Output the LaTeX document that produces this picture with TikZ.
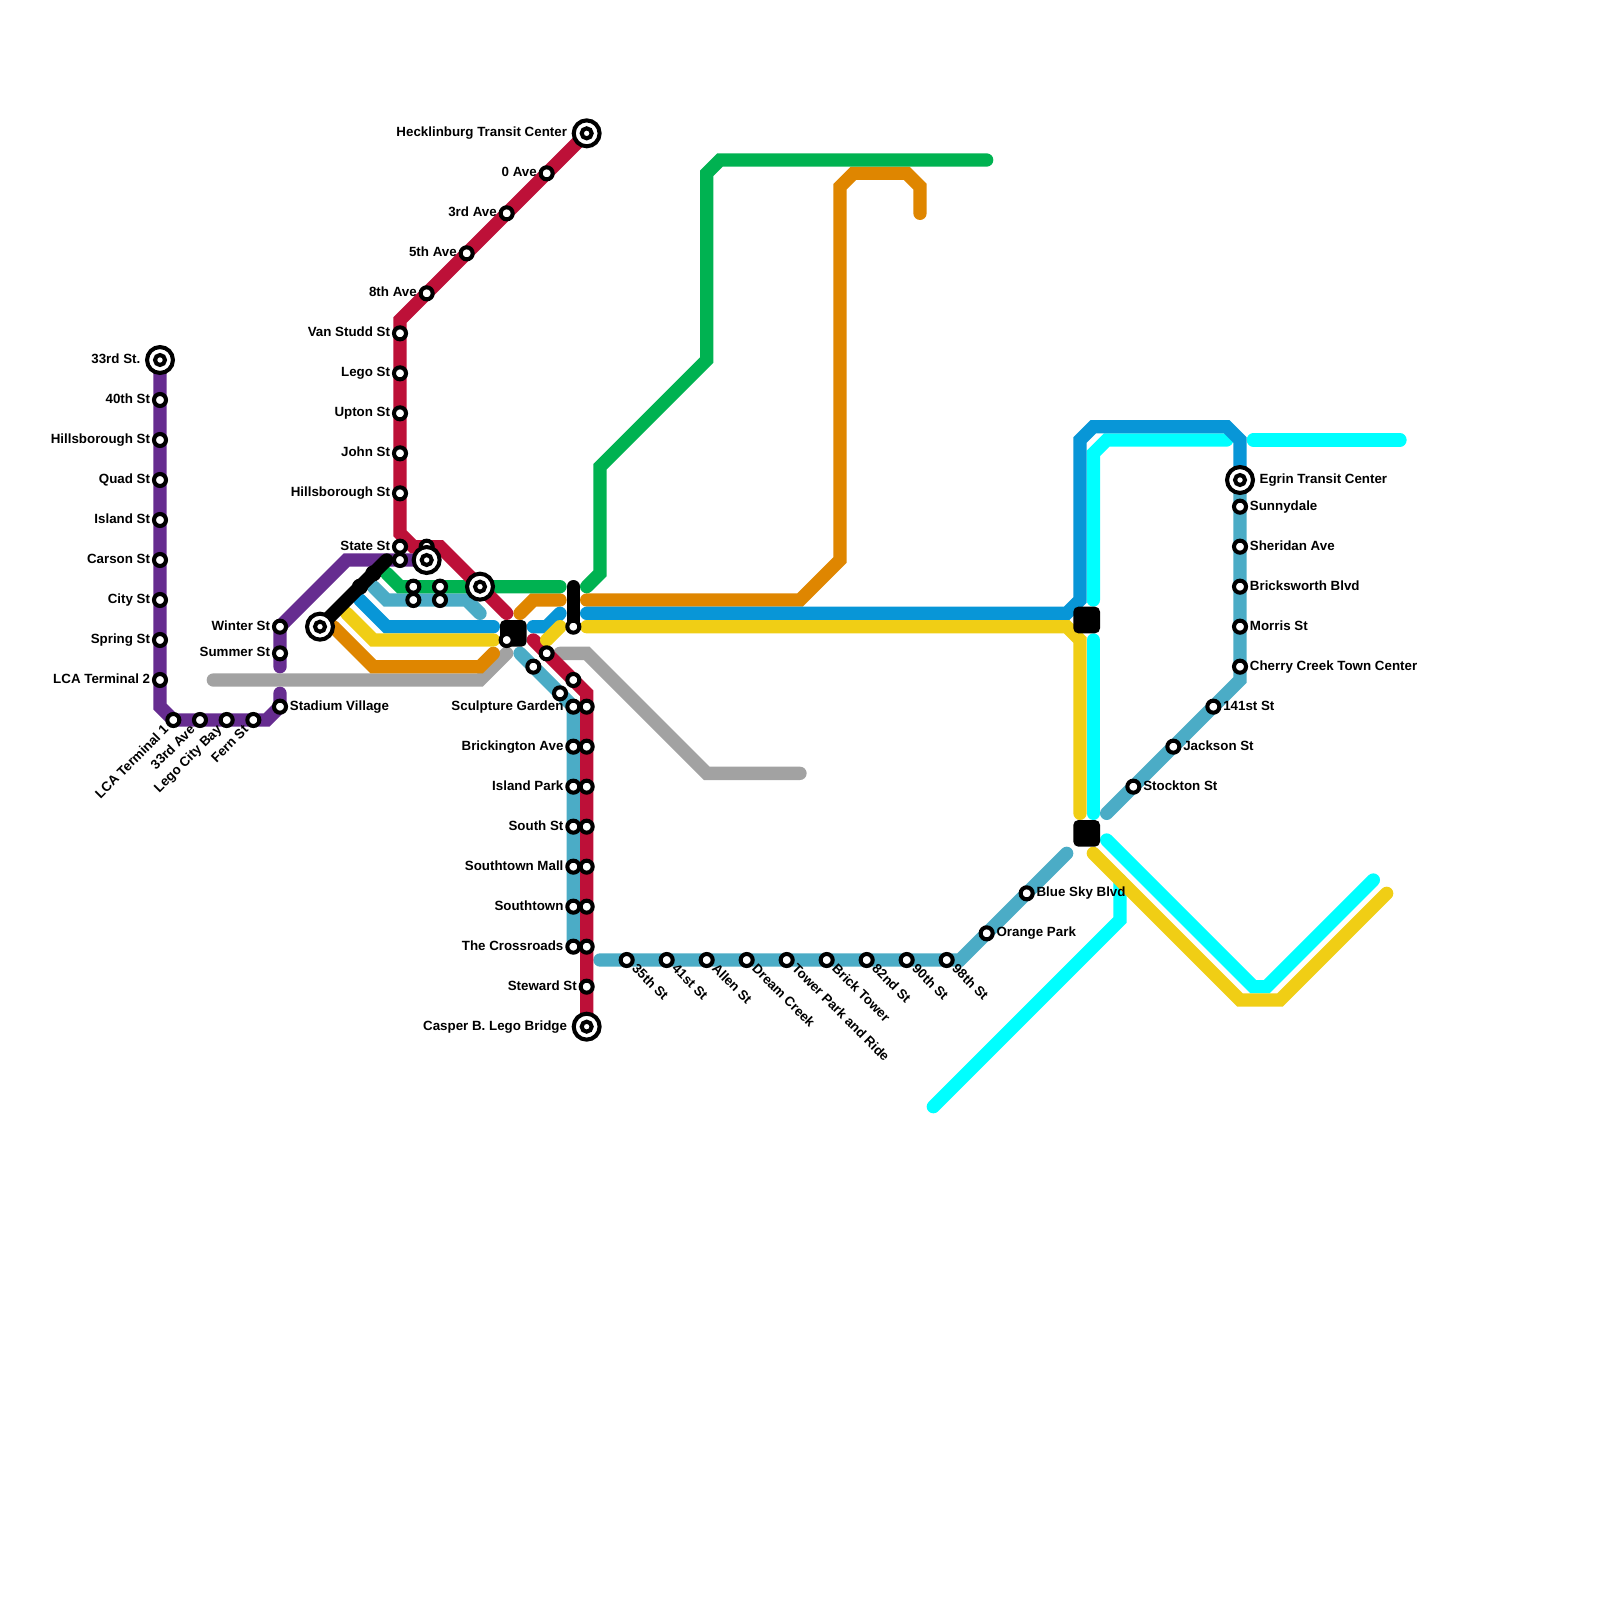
\documentclass[tikz,border=0pt]{standalone}
\usepackage{fontspec}
\setmainfont{Liberation Sans}
\usetikzlibrary{positioning,backgrounds}

\definecolor{metroRed}{HTML}{BD1038}
\definecolor{metroOrange}{HTML}{DF8600}
\definecolor{metroYellow}{HTML}{F0CE15}
\definecolor{metroGreen}{HTML}{00B251}
\definecolor{metroBlue}{HTML}{0896D7}
\definecolor{metroTeal}{HTML}{4BACC6}
\definecolor{metroPurple}{HTML}{662C90}
\definecolor{metroGray}{HTML}{A2A2A2}
\definecolor{metroCyan}{HTML}{00FFFF}

\begin{document}
\begin{tikzpicture}[
    x=0.3cm, y=-0.3cm, on grid,
    font=\fontsize{8.54}{10}\selectfont\bfseries,
    metroLine/.style={line width=0.3cm, line cap=round},
    stationNode/.style={circle, draw=black, fill=white, minimum size=7.7pt, inner sep=0pt, line width=2.6pt},
    hubNode/.style={circle, draw=black, fill=white, minimum size=16.6pt, inner sep=0pt, line width=2.6pt},
    hubInner/.style={stationNode, minimum size=6.4pt},
    blockNode/.style={rectangle, fill=black, minimum size=0.6cm, inner sep=0pt, rounded corners=3.2pt},
    textLabel/.style={inner sep=0pt, text height=0.64em, text depth=0.2em, label distance=1pt},
    farLabel/.style={textLabel, label distance=2.8pt},
    downLabel/.style={inner sep=0pt, text height=0.72em, text depth=0.2em, xshift=1pt, rotate=-45, anchor=west, label distance=0.5pt},
    upLabel/.style={inner sep=0pt, text height=0.72em, text depth=0.2em, xshift=-0.8pt, yshift=1.8pt, rotate=45, anchor=east, label distance=3pt}]

  \useasboundingbox (0,0) rectangle (120,120);

  % Purple Line
  \node[hubNode, label={[farLabel]left:33rd St.}] (hub33rd) at (12,27) {};
  \node[hubInner, at=(hub33rd)] (hub33rdIn) {};
  \node[stationNode, label={[textLabel]left:40th St}] (st40th) at (12,30) {};
  \node[stationNode, below=0.9cm of st40th, label={[textLabel]left:Hillsborough St}] (hillsA) {};
  \node[stationNode, below=0.9cm of hillsA, label={[textLabel]left:Quad St}] (quad) {};
  \node[stationNode, below=0.9cm of quad, label={[textLabel]left:Island St}] (island) {};
  \node[stationNode, below=0.9cm of island, label={[textLabel]left:Carson St}] (carson) {};
  \node[stationNode, below=0.9cm of carson, label={[textLabel]left:City St}] (city) {};
  \node[stationNode, below=0.9cm of city, label={[textLabel]left:Spring St}] (spring) {};
  \node[stationNode, below=0.9cm of spring, label={[textLabel]left:LCA Terminal 2}] (lcaTwo) {};
  \node[stationNode, label={[upLabel]225:LCA Terminal 1}] (lcaOne) at (13,54) {};
  \node[stationNode, right=0.6cm of lcaOne, label={[upLabel]225:33rd Ave}] (ave33rd) {};
  \node[stationNode, right=0.6cm of ave33rd, label={[upLabel]225:Lego City Bay}] (legoBay) {};
  \node[stationNode, right=0.6cm of legoBay, label={[upLabel]225:Fern St}] (fern) {};
  \node[stationNode, label={[textLabel]right:Stadium Village}] (stadium) at (21,53) {};
  \node[stationNode, label={[textLabel]left:Summer St}] (summer) at (21,49) {};
  \node[stationNode, label={[textLabel]left:Winter St}] (winter) at (21,47) {};

  % Red Line
  \node[hubNode, label={[farLabel]left:Hecklinburg Transit Center}] (hecklinburg) at (44,10) {};
  \node[hubInner, at=(hecklinburg)] (hecklinburgIn) {};
  \node[stationNode, label={[textLabel]left:0 Ave}] (ave0) at (41,13) {};
  \node[stationNode, label={[textLabel]left:3rd Ave}] (ave3) at (38,16) {};
  \node[stationNode, label={[textLabel]left:5th Ave}] (ave5) at (35,19) {};
  \node[stationNode, label={[textLabel]left:8th Ave}] (ave8) at (32,22) {};
  \node[stationNode, label={[textLabel]left:Van Studd St}] (vanStudd) at (30,25) {};
  \node[stationNode, below=0.9cm of vanStudd, label={[textLabel]left:Lego St}] (legoSt) {};
  \node[stationNode, below=0.9cm of legoSt, label={[textLabel]left:Upton St}] (upton) {};
  \node[stationNode, below=0.9cm of upton, label={[textLabel]left:John St}] (john) {};
  \node[stationNode, below=0.9cm of john, label={[textLabel]left:Hillsborough St}] (hillsB) {};
  \node[stationNode, label={[textLabel]left:State St}] (state) at (30,41) {};
  \node[stationNode] (stateB) at (30,42) {};
  \node[stationNode] (hidden) at (32,41) {};
  \node[stationNode] (redA) at (41,49) {};
  \node[stationNode] (redB) at (43,51) {};
  \node[stationNode] (redC) at (44,53) {};
  \node[stationNode, below=0.9cm of redC] (redD) {};
  \node[stationNode, below=0.9cm of redD] (redE) {};
  \node[stationNode, below=0.9cm of redE] (redF) {};
  \node[stationNode, below=0.9cm of redF] (redG) {};
  \node[stationNode, below=0.9cm of redG] (redH) {};
  \node[stationNode, below=0.9cm of redH] (redI) {};
  \node[stationNode, below=0.9cm of redI, label={[textLabel]left:Steward St}] (steward) {};
  \node[hubNode, label={[farLabel]left:Casper B. Lego Bridge}] (casper) at (44,77) {};
  \node[hubInner, at=(casper)] (casperIn) {};

  % Teal Line
  \node[stationNode] (tealA) at (40,50) {};
  \node[stationNode] (tealB) at (42,52) {};
  \node[stationNode, label={[textLabel]left:Sculpture Garden}] (sculpture) at (43,53) {};
  \node[stationNode, below=0.9cm of sculpture, label={[textLabel]left:Brickington Ave}] (brickington) {};
  \node[stationNode, below=0.9cm of brickington, label={[textLabel]left:Island Park}] (islandPark) {};
  \node[stationNode, below=0.9cm of islandPark, label={[textLabel]left:South St}] (south) {};
  \node[stationNode, below=0.9cm of south, label={[textLabel]left:Southtown Mall}] (southMall) {};
  \node[stationNode, below=0.9cm of southMall, label={[textLabel]left:Southtown}] (southtown) {};
  \node[stationNode, below=0.9cm of southtown, label={[textLabel]left:The Crossroads}] (crossroads) {};
  \node[stationNode, label={[downLabel]315:35th St}] (st35th) at (47,72) {};
  \node[stationNode, right=0.9cm of st35th, label={[downLabel]315:41st St}] (st41st) {};
  \node[stationNode, right=0.9cm of st41st, label={[downLabel]315:Allen St}] (allen) {};
  \node[stationNode, right=0.9cm of allen, label={[downLabel]315:Dream Creek}] (dream) {};
  \node[stationNode, right=0.9cm of dream, label={[downLabel]315:Tower Park and Ride}] (tower) {};
  \node[stationNode, right=0.9cm of tower, label={[downLabel]315:Brick Tower}] (brick) {};
  \node[stationNode, right=0.9cm of brick, label={[downLabel]315:82nd St}] (st82nd) {};
  \node[stationNode, right=0.9cm of st82nd, label={[downLabel]315:90th St}] (st90th) {};
  \node[stationNode, right=0.9cm of st90th, label={[downLabel]315:98th St}] (st98th) {};
  \node[stationNode, label={[textLabel]right:Orange Park}] (orangePark) at (74,70) {};
  \node[stationNode, label={[textLabel]right:Blue Sky Blvd}] (blueSky) at (77,67) {};
  \node[stationNode, label={[textLabel]right:Stockton St}] (stockton) at (85,59) {};
  \node[stationNode, label={[textLabel]right:Jackson St}] (jackson) at (88,56) {};
  \node[stationNode, label={[textLabel]right:141st St}] (st141st) at (91,53) {};
  \node[stationNode, label={[textLabel]right:Cherry Creek Town Center}] (cherry) at (93,50) {};
  \node[stationNode, above=0.9cm of cherry, label={[textLabel]right:Morris St}] (morris) {};
  \node[stationNode, above=0.9cm of morris, label={[textLabel]right:Bricksworth Blvd}] (bricksworth) {};
  \node[stationNode, above=0.9cm of bricksworth, label={[textLabel]right:Sheridan Ave}] (sheridan) {};
  \node[stationNode, above=0.9cm of sheridan, label={[textLabel]right:Sunnydale}] (sunnydale) {};
  \node[hubNode, label={[farLabel]right:Egrin Transit Center}] (egrin) at (93,36) {};
  \node[hubInner, at=(egrin)] (egrinIn) {};
  \node[stationNode] (rowA) at (31,44) {};
  \node[stationNode] (rowB) at (33,44) {};
  \node[stationNode] (rowC) at (31,45) {};
  \node[stationNode] (rowD) at (33,45) {};

  % Hubs
  \node[hubNode] (hubState) at (32,42) {};
  \node[hubInner, at=(hubState)] (hubStateIn) {};
  \node[hubNode] (hubGreen) at (36,44) {};
  \node[hubInner, at=(hubGreen)] (hubGreenIn) {};
  \node[hubNode] (hubBlack) at (24,47) {};
  \node[hubInner, at=(hubBlack)] (hubBlackIn) {};

  % Blocks
  \node[blockNode] (blockMid) at (38.5,47.5) {};
  \node[blockNode] (blockTop) at (81.5,46.5) {};
  \node[blockNode] (blockLow) at (81.5,62.5) {};
  \node[stationNode] (blockDot) at (38,48) {};
  \node[stationNode] (blackDot) at (43,47) {};

  % Bends
  \coordinate (purple1) at (12,53);
  \coordinate (purple2) at (13,54);
  \coordinate (purple3) at (20,54);
  \coordinate (purple4) at (21,52);
  \coordinate (purple5) at (21,50);
  \coordinate (purple6) at (26,42);
  \coordinate (red1) at (30,24);
  \coordinate (red2) at (30,40);
  \coordinate (red3) at (31,41);
  \coordinate (red4) at (33,41);
  \coordinate (red5) at (38,46);
  \coordinate (red6) at (40,48);
  \coordinate (red7) at (44,52);
  \coordinate (teal1) at (39,49);
  \coordinate (teal2) at (28,44);
  \coordinate (teal3) at (29,45);
  \coordinate (teal4) at (35,45);
  \coordinate (teal5) at (36,46);
  \coordinate (teal6) at (45,72);
  \coordinate (teal7) at (72,72);
  \coordinate (teal8) at (80,64);
  \coordinate (teal9) at (83,61);
  \coordinate (teal10) at (93,51);
  \coordinate (teal11) at (93,37);
  \coordinate (green1) at (29,43);
  \coordinate (green2) at (30,44);
  \coordinate (green3) at (42,44);
  \coordinate (green4) at (44,44);
  \coordinate (green5) at (45,43);
  \coordinate (green6) at (45,35);
  \coordinate (green7) at (53,27);
  \coordinate (green8) at (53,13);
  \coordinate (green9) at (54,12);
  \coordinate (green10) at (74,12);
  \coordinate (orange1) at (25,47);
  \coordinate (orange2) at (28,50);
  \coordinate (orange3) at (36,50);
  \coordinate (orange4) at (37,49);
  \coordinate (orange5) at (39,46);
  \coordinate (orange6) at (40,45);
  \coordinate (orange7) at (42,45);
  \coordinate (orange8) at (44,45);
  \coordinate (orange9) at (60,45);
  \coordinate (orange10) at (63,42);
  \coordinate (orange11) at (63,14);
  \coordinate (orange12) at (64,13);
  \coordinate (orange13) at (68,13);
  \coordinate (orange14) at (69,14);
  \coordinate (orange15) at (69,16);
  \coordinate (yellow1) at (26,46);
  \coordinate (yellow2) at (28,48);
  \coordinate (yellow3) at (37,48);
  \coordinate (yellow4) at (41,48);
  \coordinate (yellow5) at (42,47);
  \coordinate (yellow6) at (44,47);
  \coordinate (yellow7) at (80,47);
  \coordinate (yellow8) at (81,48);
  \coordinate (yellow9) at (81,61);
  \coordinate (yellow10) at (82,64);
  \coordinate (yellow11) at (93,75);
  \coordinate (yellow12) at (96,75);
  \coordinate (yellow13) at (104,67);
  \coordinate (blue1) at (27,45);
  \coordinate (blue2) at (29,47);
  \coordinate (blue3) at (37,47);
  \coordinate (blue4) at (40,47);
  \coordinate (blue5) at (41,47);
  \coordinate (blue6) at (42,46);
  \coordinate (blue7) at (44,46);
  \coordinate (blue8) at (80,46);
  \coordinate (blue9) at (81,45);
  \coordinate (blue10) at (81,33);
  \coordinate (blue11) at (82,32);
  \coordinate (blue12) at (92,32);
  \coordinate (blue13) at (93,33);
  \coordinate (gray1) at (16,51);
  \coordinate (gray2) at (36,51);
  \coordinate (gray3) at (38,49);
  \coordinate (gray4) at (42,49);
  \coordinate (gray5) at (44,49);
  \coordinate (gray6) at (53,58);
  \coordinate (gray7) at (60,58);
  \coordinate (cyan1) at (82,45);
  \coordinate (cyan2) at (82,34);
  \coordinate (cyan3) at (83,33);
  \coordinate (cyan4) at (92,33);
  \coordinate (cyan5) at (94,33);
  \coordinate (cyan6) at (105,33);
  \coordinate (cyan7) at (82,48);
  \coordinate (cyan8) at (82,61);
  \coordinate (cyan9) at (83,63);
  \coordinate (cyan10) at (94,74);
  \coordinate (cyan11) at (95,74);
  \coordinate (cyan12) at (103,66);
  \coordinate (cyan13) at (84,66);
  \coordinate (cyan14) at (84,69);
  \coordinate (cyan15) at (70,83);
  \coordinate (black1) at (29,42);
  \coordinate (black2) at (43,44);

  \begin{scope}[on background layer]
    % Cyan and Gray
    \draw[metroLine, metroCyan] (cyan1) -- (cyan2) -- (cyan3) -- (cyan4);
    \draw[metroLine, metroCyan] (cyan5) -- (cyan6);
    \draw[metroLine, metroCyan] (cyan7) -- (cyan8);
    \draw[metroLine, metroCyan] (cyan9) -- (cyan10) -- (cyan11) -- (cyan12);
    \draw[metroLine, metroCyan] (cyan13) -- (cyan14) -- (cyan15);
    \draw[metroLine, metroGray] (gray1) -- (gray2) -- (gray3);
    \draw[metroLine, metroGray] (gray4) -- (gray5) -- (gray6) -- (gray7);

    % Teal
    \draw[metroLine, metroTeal] (teal1) -- (sculpture.center) -- (crossroads.center);
    \draw[metroLine, metroTeal] (teal2) -- (teal3) -- (teal4) -- (teal5);
    \draw[metroLine, metroTeal] (teal6) -- (teal7) -- (teal8);
    \draw[metroLine, metroTeal] (teal9) -- (teal10) -- (teal11);

    % Orange, Green and Blue
    \draw[metroLine, metroOrange] (orange1) -- (orange2) -- (orange3) -- (orange4);
    \draw[metroLine, metroOrange] (orange5) -- (orange6) -- (orange7);
    \draw[metroLine, metroOrange] (orange8) -- (orange9) -- (orange10) -- (orange11) -- (orange12) -- (orange13) -- (orange14) -- (orange15);
    \draw[metroLine, metroGreen] (green1) -- (green2) -- (green3);
    \draw[metroLine, metroGreen] (green4) -- (green5) -- (green6) -- (green7) -- (green8) -- (green9) -- (green10);
    \draw[metroLine, metroBlue] (blue1) -- (blue2) -- (blue3);
    \draw[metroLine, metroBlue] (blue4) -- (blue5) -- (blue6);
    \draw[metroLine, metroBlue] (blue7) -- (blue8) -- (blue9) -- (blue10) -- (blue11) -- (blue12) -- (blue13) -- (egrin.center);

    % Purple and Red
    \draw[metroLine, metroPurple] (hub33rd.center) -- (purple1) -- (purple2) -- (purple3) -- (stadium.center) -- (purple4);
    \draw[metroLine, metroPurple] (purple5) -- (winter.center) -- (purple6) -- (hubState.center);
    \draw[metroLine, metroRed] (hecklinburg.center) -- (red1) -- (red2) -- (red3) -- (red4) -- (red5);
    \draw[metroLine, metroRed] (red6) -- (red7) -- (casper.center);

    % Yellow
    \draw[metroLine, metroYellow] (yellow1) -- (yellow2) -- (yellow3);
    \draw[metroLine, metroYellow] (yellow4) -- (yellow5);
    \draw[metroLine, metroYellow] (yellow6) -- (yellow7) -- (yellow8) -- (yellow9);
    \draw[metroLine, metroYellow] (yellow10) -- (yellow11) -- (yellow12) -- (yellow13);

    % Black
    \node[stationNode] (blackA) at (27,44) {};
    \node[stationNode] (blackB) at (28,43) {};
    \draw[metroLine, black] (hubBlack.center) -- (black1);
    \draw[metroLine, black] (black2) -- (blackDot.center);
  \end{scope}

\end{tikzpicture}
\end{document}
